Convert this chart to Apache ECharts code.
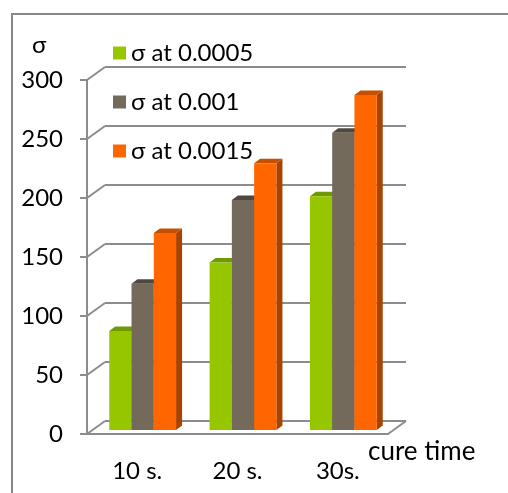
<!DOCTYPE html>
<html>
<head>
<meta charset="utf-8">
<script src="https://cdn.jsdelivr.net/npm/echarts@6/dist/echarts.min.js"></script>
<style>
  html, body { margin: 0; padding: 0; background: #fff; }
  #chart { width: 508px; height: 493px; }
</style>
</head>
<body>
<div id="chart"></div>
<script>
// Cure time categories and stress values per strain level
const categories = ['10 s.', '20 s.', '30s.'];
const seriesNames = ['σ at 0.0005', 'σ at 0.001', 'σ at 0.0015'];
const sigma00005 = [84, 142, 198];
const sigma0001 = [124, 195, 252];
const sigma00015 = [167, 226, 284];
const yTicks = [0, 50, 100, 150, 200, 250, 300];

const FONT = 'Lato';
const faces = [
  { front: '#96c600', top: '#6f9900', side: '#5d8000' },
  { front: '#736a5c', top: '#4f483e', side: '#423c34' },
  { front: '#ff6600', top: '#c64f00', side: '#a84300' }
];
const DEPTH_X = 18, DEPTH_Y = -13;   // floor depth of the 3D box
const BAR_DX = 6, BAR_DY = -4.5;     // depth of each bar
const BAR_FRAC = 0.222;              // bar width as share of a category band

function barRenderer(si) {
  return function (params, api) {
    const cat = api.value(0), val = api.value(1);
    const band = api.size([1, 0])[0];
    const bw = band * BAR_FRAC;
    const base = api.coord([cat, 0]);
    const top = api.coord([cat, val]);
    const x0 = base[0] - 1.5 * bw + si * bw;
    const x1 = x0 + bw;
    const yb = base[1], yt = top[1];
    const f = faces[si];
    return {
      type: 'group',
      children: [
        { type: 'polygon', shape: { points: [[x1, yt], [x1 + BAR_DX, yt + BAR_DY], [x1 + BAR_DX, yb + BAR_DY], [x1, yb]] }, style: { fill: f.side } },
        { type: 'polygon', shape: { points: [[x0, yt], [x0 + BAR_DX, yt + BAR_DY], [x1 + BAR_DX, yt + BAR_DY], [x1, yt]] }, style: { fill: f.top } },
        { type: 'rect', shape: { x: x0, y: yt, width: bw, height: yb - yt }, style: { fill: f.front } }
      ]
    };
  };
}

const values = [sigma00005, sigma0001, sigma00015];
const barSeries = values.map((arr, si) => ({
  name: seriesNames[si],
  type: 'custom',
  xAxisIndex: 2, yAxisIndex: 2,
  itemStyle: { color: faces[si].front },
  renderItem: barRenderer(si),
  encode: { x: 0, y: 1 },
  data: arr.map((v, i) => [i, v]),
  z: 5 + si
}));

// diagonal connectors from the front axis to the back wall, plus right floor edge
const connectorSeries = {
  type: 'custom',
  xAxisIndex: 0, yAxisIndex: 0,
  silent: true,
  z: 3,
  renderItem: function (params, api) {
    const v = api.value(1);
    const band = api.size([1, 0])[0];
    const p = api.coord([0, v]);
    const xl = p[0] - band / 2;
    const children = [{
      type: 'line',
      shape: { x1: xl, y1: p[1], x2: xl + DEPTH_X, y2: p[1] + DEPTH_Y },
      style: { stroke: '#8c8c8c', lineWidth: 2 }
    }];
    if (v === 0) {
      const xr = api.coord([categories.length - 1, 0])[0] + band / 2;
      children.push({
        type: 'line',
        shape: { x1: xr, y1: p[1], x2: xr + DEPTH_X, y2: p[1] + DEPTH_Y },
        style: { stroke: '#8c8c8c', lineWidth: 2 }
      });
    }
    return { type: 'group', children };
  },
  encode: { x: 0, y: 1 },
  data: yTicks.map(v => [0, v])
};

const yBase = { type: 'value', min: 0, max: 300, interval: 50 };
const chart = echarts.init(document.getElementById('chart'));
chart.setOption({
  backgroundColor: '#fff',
  animation: false,
  textStyle: { fontFamily: FONT },
  legend: {
    orient: 'vertical',
    left: 108, top: 36,
    itemWidth: 13, itemHeight: 13, itemGap: 25,
    icon: 'rect',
    textStyle: { fontFamily: FONT, fontSize: 24, color: '#000' },
    data: seriesNames
  },
  grid: [
    { left: 87, right: 120, top: 80, bottom: 59 },   // front plane (axes)
    { left: 105, right: 102, top: 67, bottom: 72 },  // back wall (grid lines)
    { left: 92.5, right: 114.5, top: 76, bottom: 63 } // plane of the bars
  ],
  xAxis: [
    {
      type: 'category', gridIndex: 0, data: categories,
      axisLine: { lineStyle: { color: '#8c8c8c', width: 2 } },
      axisTick: { length: 9, lineStyle: { color: '#8c8c8c', width: 2 } },
      axisLabel: { fontFamily: FONT, fontSize: 24, color: '#000', margin: 25 }
    },
    { type: 'category', gridIndex: 1, data: categories, show: false },
    { type: 'category', gridIndex: 2, data: categories, show: false }
  ],
  yAxis: [
    Object.assign({}, yBase, {
      gridIndex: 0,
      axisLine: { show: true, lineStyle: { color: '#8c8c8c', width: 2 } },
      axisTick: { show: true, length: 7, lineStyle: { color: '#8c8c8c', width: 2 } },
      axisLabel: { fontFamily: FONT, fontSize: 24, color: '#000', margin: 24 },
      splitLine: { show: false }
    }),
    Object.assign({}, yBase, {
      gridIndex: 1,
      axisLine: { show: false }, axisTick: { show: false }, axisLabel: { show: false },
      splitLine: { show: true, lineStyle: { color: '#8c8c8c', width: 2 } }
    }),
    Object.assign({}, yBase, { gridIndex: 2, show: false })
  ],
  graphic: [
    { type: 'rect', shape: { x: 12, y: 14, width: 700, height: 700 }, style: { fill: 'none', stroke: '#878787', lineWidth: 2 }, z: 100 },
    { type: 'text', left: 32, top: 33, style: { text: 'σ', fontFamily: FONT, fontSize: 24, fill: '#000' } },
    { type: 'text', left: 368, top: 439, style: { text: 'cure time', fontFamily: FONT, fontSize: 26, fill: '#000' } }
  ],
  series: [connectorSeries].concat(barSeries)
});
</script>
</body>
</html>
